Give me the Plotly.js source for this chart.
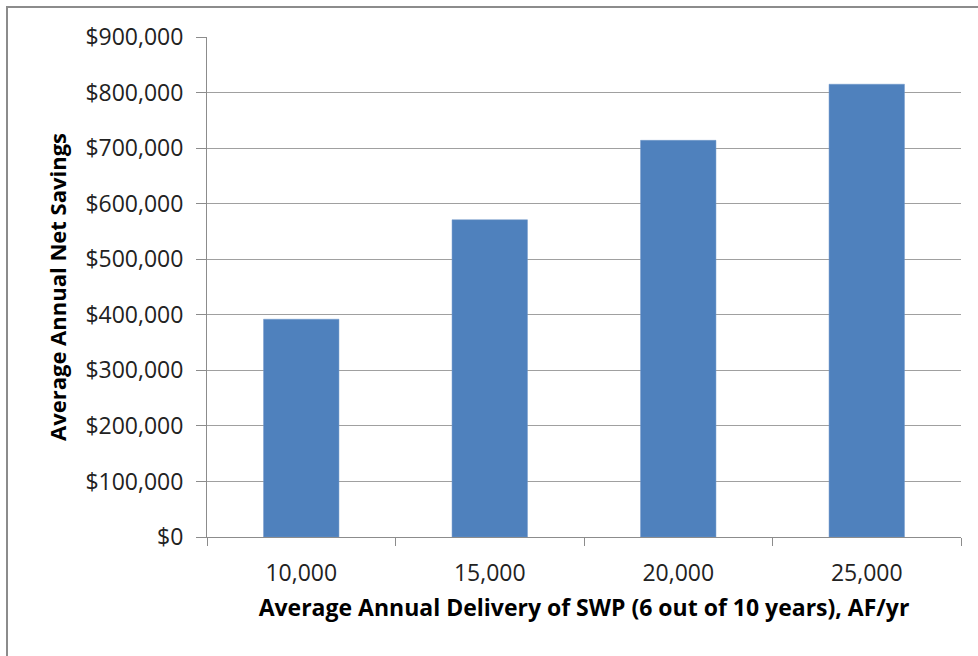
<!DOCTYPE html>
<html>
<head>
<meta charset="utf-8">
<script src="https://cdn.plot.ly/plotly-3.0.1.min.js"></script>
<style>
  html, body { margin: 0; padding: 0; background: #fff; }
  #frame { position: absolute; left: 6px; top: 6px; width: 1000px; height: 700px;
           border-left: 2px solid #8c8c8c; border-top: 2px solid #8c8c8c; pointer-events: none; }
  #chart { position: absolute; left: 0; top: 0; width: 978px; height: 656px; }
</style>
</head>
<body>
<div id="chart"></div>
<div id="frame"></div>
<script>
// Data
const categories = ["10,000", "15,000", "20,000", "25,000"];
const netSavings = [392000, 571000, 714000, 815000];
const yTickValues = [0, 100000, 200000, 300000, 400000, 500000, 600000, 700000, 800000, 900000];
const yTickLabels = ["$0", "$100,000", "$200,000", "$300,000", "$400,000", "$500,000",
                     "$600,000", "$700,000", "$800,000", "$900,000"];
const xTitle = "Average Annual Delivery of SWP (6 out of 10 years), AF/yr";
const yTitle = "Average Annual Net Savings";

const tickFont = { family: "Open Sans, sans-serif", size: 23, color: "#222" };
const xTitleFont = { family: "Open Sans, sans-serif", size: 23, color: "#000", weight: 700 };
const yTitleFont = { family: "Open Sans, sans-serif", size: 22, color: "#000", weight: 700 };

const trace = {
  type: "bar",
  x: categories,
  y: netSavings,
  marker: { color: "#4F81BD", line: { color: "#6f97c9", width: 0.5 } },
  hoverinfo: "x+y"
};

const layout = {
  width: 978,
  height: 656,
  margin: { l: 207, r: 17, t: 37, b: 119 },
  paper_bgcolor: "#ffffff",
  plot_bgcolor: "#ffffff",
  showlegend: false,
  bargap: 0.6,
  xaxis: {
    type: "category",
    showline: true,
    linecolor: "#8c8c8c",
    linewidth: 1,
    ticks: "outside",
    tickson: "boundaries",
    ticklen: 8,
    tickcolor: "#8c8c8c",
    showgrid: false,
    tickfont: tickFont,
    ticklabelstandoff: 15,
    title: { text: "<b>" + xTitle + "</b>", font: xTitleFont, standoff: 13 }
  },
  yaxis: {
    range: [0, 900000],
    tickmode: "array",
    tickvals: yTickValues,
    ticktext: yTickLabels,
    showline: true,
    linecolor: "#8c8c8c",
    linewidth: 1,
    ticks: "outside",
    ticklen: 10,
    tickcolor: "#8c8c8c",
    showgrid: true,
    gridcolor: "#a0a0a0",
    gridwidth: 1,
    zeroline: false,
    tickfont: tickFont,
    ticklabelstandoff: 8,
    title: { text: "<b>" + yTitle + "</b>", font: yTitleFont, standoff: 12 }
  }
};

Plotly.newPlot("chart", [trace], layout, { displayModeBar: false, staticPlot: true });
</script>
</body>
</html>
